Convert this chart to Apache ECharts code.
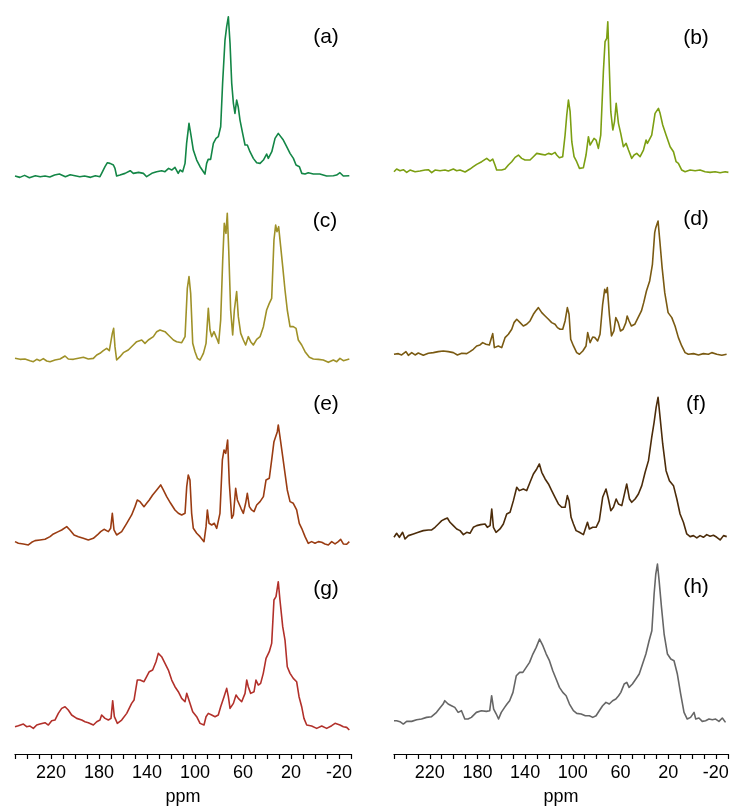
<!DOCTYPE html>
<html>
<head>
<meta charset="utf-8">
<script src="https://cdn.jsdelivr.net/npm/echarts@6/dist/echarts.min.js"></script>
<style>html,body{margin:0;padding:0;background:#fff}#c{width:733px;height:807px}</style>
</head>
<body>
<div id="c"></div>
<script>
// ppm axis tick labels
const tickLabels = [220, 180, 140, 100, 60, 20, -20];
const panelLabels = ['(a)', '(b)', '(c)', '(d)', '(e)', '(f)', '(g)', '(h)'];
const colors = ['#138646', '#7c9f12', '#9f9128', '#7a5a12', '#9a3c12', '#4c2c0a', '#b2302a', '#666666'];

// [ppm, intensity (arbitrary units)]
const specA = [[250,2],[246,-2],[242,4],[238,-3],[233,3],[229,0],[225,2],[221,-1],[217,5],[213,8],[208,0],[204,6],[200,3],[196,0],[192,2],[187,-2],[183,3],[179.2,0],[177.8,10],[175,30],[173,42],[170.8,40],[168,35],[166.7,25],[165.3,2],[162.5,5],[158.3,10],[154,18],[151.4,10],[147,13],[143,10],[140.3,0],[136,10],[132,15],[127.8,18],[125,15],[122,25],[119.4,20],[116.7,28],[115.3,25],[114,10],[112.5,20],[110.3,15],[108.3,40],[107,100],[105,160],[103.6,130],[101.4,80],[98.6,50],[95.8,30],[93,15],[91.7,8],[90.3,40],[89,52],[87,52],[84.7,100],[82.5,115],[80.6,120],[78.6,150],[77,280],[75,410],[73.6,450],[72.2,480],[70.8,400],[69.4,280],[68,220],[66.7,190],[65.3,230],[64,210],[62.5,170],[60.3,130],[58.3,95],[56.4,95],[54.2,75],[51.4,55],[48.6,42],[45.8,40],[43,50],[40.3,68],[38.9,55],[36,75],[33.3,115],[30.6,130],[29.2,125],[26.4,110],[23.6,90],[20.8,70],[18,55],[15.8,35],[13,30],[11,10],[8.3,8],[5.6,12],[1.4,8],[-4,8],[-9.7,2],[-15.3,3],[-18,5],[-20.8,12],[-23.6,2],[-28.6,3]];

const specB = [[250,0],[247.8,8],[245,3],[242.2,6],[239.4,-2],[236.6,5],[232.4,0],[228.3,2],[224,5],[221.3,6],[218.5,-3],[215.7,5],[211.5,3],[207.4,5],[204.6,2],[200.4,8],[197.6,3],[194.8,5],[190.6,-1],[189.2,5],[186.5,8],[183.7,15],[180.9,22],[176.7,30],[172.5,40],[169.7,32],[167.5,38],[165.6,20],[164.2,5],[160,5],[157.2,8],[154.4,20],[151.6,30],[148.8,43],[146,50],[143.3,40],[140.5,35],[136.3,35],[133.5,45],[130.7,55],[129.3,60],[126.5,52],[123.7,50],[120.9,55],[118.2,52],[115.4,58],[114,50],[111.8,42],[109,45],[107,110],[105.6,170],[104.2,215],[102.8,180],[101.4,90],[99.5,45],[97.3,30],[95,10],[91.7,12],[89.5,50],[87.5,105],[86.1,80],[84.7,75],[82.8,100],[81.1,95],[79.2,70],[77.2,110],[75,300],[73.6,390],[72.2,400],[71.3,450],[70.2,330],[68.8,180],[67.1,125],[65.7,150],[64.3,205],[62.4,145],[60.5,115],[58.3,75],[56,85],[54,65],[51.3,40],[49.3,50],[47.1,55],[44.3,45],[41.5,65],[39.3,95],[38.2,85],[36,100],[34.6,110],[31.8,175],[29,190],[27.6,175],[25.4,140],[22.6,110],[19.2,75],[16.4,60],[14.2,30],[12.3,25],[9.5,5],[6.7,0],[2.5,5],[-1.7,3],[-5.8,5],[-10,0],[-14.2,-2],[-18.4,0],[-22.6,-3],[-26.8,0],[-29.5,-2]];

const specC = [[250,5],[245.8,2],[241.7,3],[237.5,-2],[234.7,-5],[231.9,2],[229.2,-2],[226.4,4],[223.6,-3],[220.8,-5],[216.7,0],[212.5,3],[208.3,12],[205.6,3],[201.4,2],[197.2,5],[193,8],[188.9,3],[184.7,5],[181.9,15],[179.2,20],[176.4,28],[173.6,35],[171.4,28],[170,30],[168.9,80],[167.8,95],[166.7,40],[165.3,0],[162.5,10],[159.7,22],[155.6,30],[151.4,45],[148.6,55],[144.4,60],[141.7,50],[138.9,60],[134.7,70],[131.9,85],[129.2,90],[125,85],[122.2,75],[118,60],[115.3,55],[111.1,52],[108.3,70],[106.4,215],[105,250],[103.6,200],[101.9,50],[100,25],[98,5],[95.8,0],[93,20],[90.8,50],[88.9,155],[87.5,90],[86.1,70],[84.2,85],[81.9,65],[80.3,50],[78.6,120],[76.9,300],[75.6,410],[74.2,380],[73.1,440],[71.9,330],[70.3,150],[68.6,75],[67.2,150],[65.3,205],[63.9,130],[61.9,80],[59.7,60],[57.8,45],[55.6,70],[53.6,55],[51.4,45],[48.6,62],[45.8,70],[43,100],[40.3,150],[38.1,170],[36.1,185],[34.2,360],[32.8,405],[31.7,385],[30.3,400],[28.6,340],[26.9,280],[25,210],[23.1,150],[20.8,100],[18.1,100],[15.8,95],[13.9,60],[11.1,45],[8.3,25],[4.7,8],[1.4,3],[-2.8,2],[-6.9,0],[-11.1,-7],[-15.3,0],[-18.1,-5],[-20.8,5],[-23.6,-2],[-28.6,3]];

const specD = [[250,0],[246.4,2],[243.6,-2],[240,8],[238,-3],[235.2,5],[232.4,-2],[229.7,4],[225.5,-3],[221.3,3],[217.1,5],[213,8],[208.8,10],[204.6,8],[200.4,5],[197,-2],[193.4,3],[189.2,2],[186.5,8],[183.7,15],[180.9,25],[178.1,28],[175.9,35],[173.1,30],[170.3,28],[168.9,45],[167.5,62],[166.1,20],[162.8,25],[160,20],[157.2,50],[154.4,60],[151.6,75],[149.7,95],[147.4,105],[144.6,95],[141.9,85],[139.1,90],[136.3,100],[133.5,120],[131.6,130],[129.3,140],[126.5,125],[123.7,115],[120.9,105],[118.2,95],[115.4,90],[113.4,80],[111.2,75],[109,75],[107,100],[105.1,140],[103.7,120],[102.3,45],[100,25],[97.3,5],[95,0],[92.2,10],[89.5,25],[88.1,65],[86.1,35],[83.9,52],[82,50],[79.8,40],[77.8,60],[75.6,150],[73.9,195],[72.8,185],[71.7,200],[70,120],[68.2,55],[66.2,70],[64.6,110],[62.6,95],[60.7,70],[58.5,75],[56.2,95],[55.1,115],[53.5,100],[51.6,85],[48.8,90],[46,110],[43.2,130],[41.3,155],[39,190],[36.3,220],[34,270],[32.1,365],[31.2,380],[30.1,385],[29.3,400],[27.8,340],[25.9,260],[23.7,185],[20.9,125],[17.8,110],[15.1,85],[12.3,50],[9.5,25],[6.7,5],[4,0],[-0.3,2],[-4.5,-2],[-8.6,2],[-12.8,0],[-15.6,5],[-19.8,0],[-24,-3],[-28,0]];

const specE = [[250,5],[247.2,0],[243,-2],[238.9,-5],[236.1,3],[233.3,8],[229.2,10],[225,12],[220.8,20],[218,28],[213.9,35],[211.1,40],[206.9,50],[204.2,40],[200.8,25],[197.2,20],[193.1,15],[188.9,10],[184.7,15],[181.4,25],[178.6,35],[175.8,42],[172.2,35],[170.3,45],[168.9,90],[167.5,40],[165.3,25],[161.1,35],[156.9,60],[152.8,85],[150,110],[148.1,130],[145.8,125],[142.5,110],[140.3,120],[138.1,130],[135.3,145],[131.9,160],[128.6,175],[126.4,160],[123.6,140],[120.3,120],[116.7,100],[113.9,90],[111.1,85],[108.3,90],[106.9,170],[105.6,205],[104.2,190],[102.8,90],[101.4,45],[98.6,30],[95.8,20],[94.4,25],[92.5,5],[90.8,50],[89.7,100],[88.3,60],[86.1,55],[83.9,60],[81.9,45],[79.2,90],[77.2,250],[75.8,280],[74.4,270],[72.8,310],[71.4,180],[69.4,75],[68,85],[66.1,165],[64.7,130],[63.1,130],[61.7,105],[59.7,90],[57.8,120],[56.4,150],[54.7,110],[52.8,100],[50.8,95],[48.6,115],[45.8,125],[43,140],[40.8,190],[38.1,195],[36.1,250],[34.2,305],[32.8,300],[31.4,335],[30.6,355],[29.2,320],[26.9,260],[25,210],[23.1,160],[20.8,125],[18.1,120],[15.3,100],[13.1,60],[11.1,45],[8.3,20],[5.6,0],[2.8,5],[0,0],[-2.8,5],[-5.6,3],[-8.3,-2],[-11.1,-5],[-13.9,5],[-16.7,-2],[-19.4,5],[-21.4,12],[-23.6,-2],[-26.4,-3],[-28.6,5]];

const specF = [[250,0],[247.8,12],[245.5,0],[242.8,15],[240.8,-5],[238,5],[233.8,10],[229.7,15],[225.5,20],[221.3,22],[218.5,22],[215.7,30],[212.9,40],[210.1,50],[207.4,55],[205.4,58],[203.2,45],[200.4,35],[197.6,25],[194.8,20],[192,8],[189.2,15],[186.5,12],[183.7,30],[180.9,35],[177.5,38],[173.9,40],[172,30],[169.7,35],[168.3,85],[166.9,30],[164.7,15],[161.4,25],[158.6,40],[155.8,70],[153,75],[150.2,110],[147.4,150],[145.2,140],[141.9,145],[139.1,140],[136.3,165],[133.5,190],[130.7,205],[128.5,220],[126.5,195],[123.7,175],[120.9,160],[118.2,140],[115.4,120],[112.6,100],[109.8,90],[107,90],[105.1,125],[103.7,110],[102,60],[100,40],[97.8,20],[95,15],[91.7,8],[90.3,5],[88.3,45],[86.7,25],[83.9,30],[81.1,30],[78.4,50],[75.6,120],[72.8,145],[70.8,115],[68.8,80],[66.6,90],[64.3,115],[62.4,100],[59.6,95],[57.7,125],[55.5,160],[53.2,115],[51.3,105],[48.5,115],[45.7,130],[42.9,155],[40.1,195],[37.3,230],[34.6,300],[32.6,345],[30.9,390],[29.3,420],[27.6,360],[25.4,280],[22.6,200],[19.8,170],[16.4,155],[13.6,115],[10.9,70],[8.1,45],[5.3,10],[2.5,2],[-0.3,5],[-3.1,-2],[-5.8,5],[-8.6,0],[-11.4,8],[-14.2,3],[-17,6],[-19.8,0],[-22.6,-8],[-25.4,5],[-28.1,2]];

const specG = [[250,0],[247.2,3],[243,8],[240.3,0],[237.5,2],[234.7,-5],[231.9,5],[229.2,8],[225,12],[222.2,5],[219.4,18],[216.7,20],[213.9,40],[211.1,55],[208.3,60],[205.6,50],[202.8,35],[198.6,25],[194.4,20],[191.7,15],[188.9,12],[184.7,5],[181.9,15],[179.2,20],[177.8,35],[175,25],[172.2,20],[170,25],[168.6,78],[167.2,30],[164.7,10],[161.1,20],[156.9,40],[152.8,70],[150.8,80],[148.1,140],[145.8,140],[142.5,135],[140.3,150],[138.1,165],[135.3,170],[132.5,195],[130.6,220],[127.8,210],[125,190],[122.2,170],[119.4,140],[116.7,120],[113.9,105],[111.1,85],[108.3,75],[106.9,100],[105.6,100],[104.2,70],[101.9,45],[98.6,30],[95.8,10],[92.5,5],[90.8,30],[88.9,40],[86.1,35],[83.3,30],[80.6,35],[78.6,60],[75.8,90],[73.6,115],[72.2,90],[70.8,55],[68,70],[65.8,95],[63.9,85],[61.1,75],[58.3,100],[56.9,140],[55.6,120],[53.6,100],[50.8,105],[49.2,140],[47.2,125],[45.3,130],[43.1,160],[40.8,205],[38.1,225],[36.1,250],[34.2,380],[32.5,390],[30.6,435],[29.2,380],[26.9,300],[25,260],[23.1,180],[20.8,160],[18.1,145],[15.3,135],[13.3,90],[11.1,60],[9.2,25],[6.9,5],[2.8,2],[-1.4,-5],[-5.6,2],[-9.7,-5],[-13.9,3],[-16.7,10],[-20.8,5],[-23.6,0],[-26.4,-2],[-28.6,-10]];

const specH = [[250,0],[247.8,0],[245,-3],[242.2,-10],[239.4,-2],[235.2,-2],[231,3],[226.9,5],[222.7,10],[218.5,12],[214.3,25],[211,40],[208.8,50],[207.4,60],[204.6,50],[201.8,45],[199,40],[196.2,25],[193.4,30],[190.6,5],[187.9,5],[185.1,10],[180.9,25],[176.7,30],[172.5,28],[169.7,30],[168.1,75],[166.4,35],[164.2,20],[162.3,5],[160,25],[157.2,40],[155.2,50],[153,60],[150.2,85],[147.4,135],[144.6,145],[141.9,145],[139.1,160],[136.3,175],[133.5,200],[130.7,220],[127.9,245],[125.1,225],[122.3,200],[119.6,180],[116.8,150],[114,125],[111.2,100],[108.4,85],[105.6,75],[102.8,50],[99.5,30],[96.7,22],[93,20],[89.5,15],[86.1,15],[83.3,10],[80.5,15],[77.8,30],[75,45],[72.2,55],[69.4,50],[66.6,60],[63.9,65],[61.6,75],[59.7,85],[56.9,110],[54.7,115],[52.8,100],[50,110],[47.1,125],[44.3,140],[41.5,170],[38.7,200],[36,240],[33.7,270],[31.8,380],[30.4,440],[29,470],[27.6,420],[25.6,340],[23.4,260],[20.6,200],[17.8,185],[15.1,180],[12.3,140],[9.5,80],[6.7,25],[4,5],[1.2,10],[-1.7,25],[-3.1,5],[-5.8,8],[-8.6,-2],[-11.4,0],[-14.2,5],[-17,3],[-19.8,5],[-22.6,-2],[-25.4,8],[-28.1,-5]];

const spectra = [specA, specB, specC, specD, specE, specF, specG, specH];

// layout (pixel baselines per panel)
const baselines = [176.7, 171.7, 360, 354.3, 543.3, 537.3, 726.7, 720.7];
const axisY = 754;
const labelPos = [[326,37],[696,38],[325,221],[696,219],[326,404],[696,404],[326,589],[696,587]];

const chart = echarts.init(document.getElementById('c'), null, {renderer: 'canvas'});
const grids = [], xAxes = [], yAxes = [], series = [];
for (let i = 0; i < 8; i++) {
  const col = i % 2, row = Math.floor(i / 2);
  const left = col === 0 ? 15 : 394;
  const width = col === 0 ? 336 : 335;
  const yb = baselines[i];
  const top = yb - 170;
  const bottomY = row === 3 ? axisY : yb + 10;
  const d = bottomY - yb;
  grids.push({left: left, width: width, top: top, height: bottomY - top});
  const showAxis = row === 3;
  xAxes.push({
    type: 'value', gridIndex: i, min: -30, max: 250, interval: 10, inverse: true,
    show: showAxis, position: 'bottom',
    name: showAxis ? 'ppm' : '',
    nameLocation: 'middle', nameGap: 34,
    nameTextStyle: {fontSize: 18, color: '#000', fontFamily: 'Liberation Sans, Arial, sans-serif'},
    axisLine: {show: showAxis, onZero: false, lineStyle: {color: '#000', width: 1.2}},
    axisTick: {show: showAxis, inside: false, length: 5, lineStyle: {color: '#000', width: 1.2}},
    axisLabel: {
      show: showAxis, margin: 10, fontSize: 18, color: '#000',
      fontFamily: 'Liberation Sans, Arial, sans-serif',
      formatter: v => tickLabels.indexOf(v) >= 0 ? String(v) : ''
    },
    splitLine: {show: false}
  });
  yAxes.push({type: 'value', gridIndex: i, min: -3 * d, max: 510, show: false, splitLine: {show: false}});
  series.push({
    type: 'line', xAxisIndex: i, yAxisIndex: i, data: spectra[i],
    showSymbol: false, symbol: 'none', silent: true, animation: false,
    lineStyle: {color: colors[i], width: 1.6, join: 'round'}
  });
}
chart.setOption({
  animation: false,
  backgroundColor: '#fff',
  grid: grids, xAxis: xAxes, yAxis: yAxes, series: series,
  graphic: labelPos.map((p, i) => ({
    type: 'text', x: p[0], y: p[1],
    style: {text: panelLabels[i], fill: '#000', fontSize: 21,
      fontFamily: 'Liberation Sans, Arial, sans-serif', align: 'center', verticalAlign: 'middle'}
  }))
});
</script>
</body>
</html>
